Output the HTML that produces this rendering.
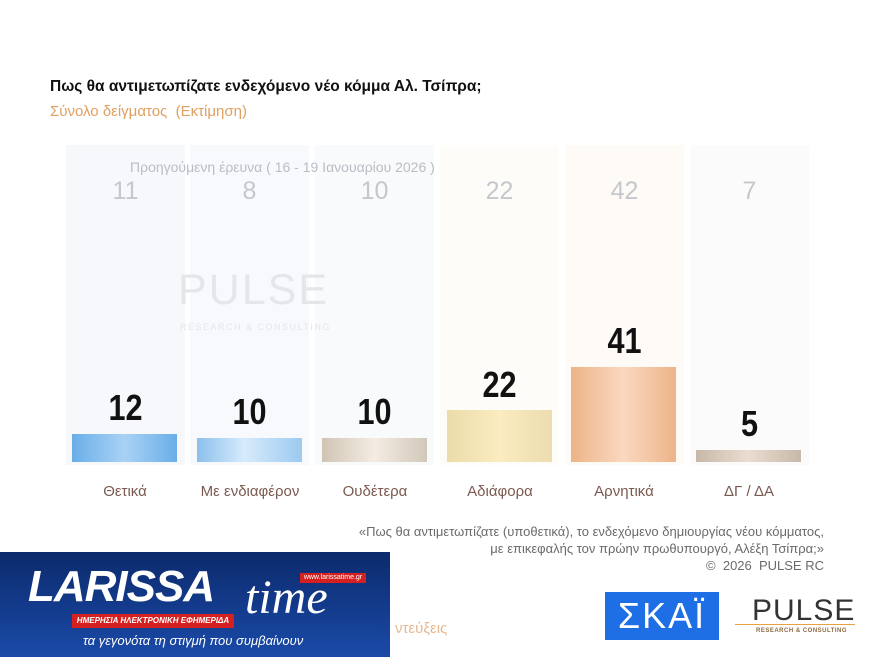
<!DOCTYPE html>
<html><head><meta charset="utf-8"><style>
body{margin:0;width:869px;height:657px;background:#fff;position:relative;overflow:hidden;font-family:"Liberation Sans","DejaVu Sans",sans-serif}
.a{position:absolute}
.col{position:absolute;top:145px;height:320px;width:119px}
.bar{position:absolute;width:105px}
.v{position:absolute;width:119px;text-align:center;font-weight:bold;font-size:36px;color:#111;transform:scaleX(0.85)}
.p{position:absolute;width:119px;text-align:center;font-size:25px;color:#c4c8cd}
.l{position:absolute;width:130px;text-align:center;font-size:15px;color:#7a5a50;top:483px}
</style></head><body>
<div class="a" style="left:50px;top:78px;font-size:15.5px;font-weight:bold;color:#111">Πως θα αντιμετωπίζατε ενδεχόμενο νέο κόμμα Αλ. Τσίπρα;</div>
<div class="a" style="left:50px;top:103px;font-size:15px;color:#e0a060">Σύνολο δείγματος &nbsp;(Εκτίμηση)</div>

<div class="col" style="left:66px;background:#f6f8fb"></div>
<div class="col" style="left:190px;background:#f7f9fc"></div>
<div class="col" style="left:315px;background:#f9fafb"></div>
<div class="col" style="left:440px;background:#fefcf8"></div>
<div class="col" style="left:565px;background:#fefaf6"></div>
<div class="col" style="left:690px;background:#fbfbfb"></div>

<div class="a" style="left:130px;top:159px;font-size:14px;color:#b8bec6">Προηγούμενη έρευνα ( 16 - 19 Ιανουαρίου 2026 )</div>
<div class="p" style="left:66px;top:177px">11</div>
<div class="p" style="left:190px;top:177px">8</div>
<div class="p" style="left:315px;top:177px">10</div>
<div class="p" style="left:440px;top:177px">22</div>
<div class="p" style="left:565px;top:177px">42</div>
<div class="p" style="left:690px;top:177px">7</div>

<div class="a" style="left:178px;top:266px;font-size:43px;color:#e4e6ea;letter-spacing:2px">PULSE</div>
<div class="a" style="left:180px;top:322px;font-size:9px;color:#e4e6ea;letter-spacing:1.5px">RESEARCH &amp; CONSULTING</div>

<div class="bar" style="left:72px;top:434px;height:28px;background:linear-gradient(90deg,#6aaee8,#a8d2f4 50%,#6aaee8)"></div>
<div class="bar" style="left:197px;top:438px;height:24px;background:linear-gradient(90deg,#8cc0ec,#d6ebfb 45%,#9ccaf0)"></div>
<div class="bar" style="left:322px;top:438px;height:24px;background:linear-gradient(90deg,#d0c4b4,#f4ece2 50%,#d2c8ba)"></div>
<div class="bar" style="left:447px;top:410px;height:52px;background:linear-gradient(90deg,#ecdcaa,#faecc0 50%,#ecdcb0)"></div>
<div class="bar" style="left:571px;top:367px;height:95px;background:linear-gradient(90deg,#ecb488,#fad8c0 50%,#ecb488)"></div>
<div class="bar" style="left:696px;top:450px;height:12px;background:linear-gradient(90deg,#c8b8a8,#ecdcd0 50%,#c8b8a8)"></div>

<div class="v" style="left:66px;top:387px">12</div>
<div class="v" style="left:190px;top:391px">10</div>
<div class="v" style="left:315px;top:391px">10</div>
<div class="v" style="left:440px;top:364px">22</div>
<div class="v" style="left:565px;top:320px">41</div>
<div class="v" style="left:690px;top:403px">5</div>

<div class="l" style="left:60px">Θετικά</div>
<div class="l" style="left:185px">Με ενδιαφέρον</div>
<div class="l" style="left:310px">Ουδέτερα</div>
<div class="l" style="left:435px">Αδιάφορα</div>
<div class="l" style="left:559px">Αρνητικά</div>
<div class="l" style="left:684px">ΔΓ / ΔΑ</div>

<div class="a" style="right:45px;top:523px;text-align:right;font-size:13px;line-height:17px;color:#6a6a6a">«Πως θα αντιμετωπίζατε (υποθετικά), το ενδεχόμενο δημιουργίας νέου κόμματος,<br>με επικεφαλής τον πρώην πρωθυπουργό, Αλέξη Τσίπρα;»<br>©&nbsp; 2026 &nbsp;PULSE RC</div>

<div class="a" style="left:395px;top:620px;font-size:15px;color:#e8b890">ντεύξεις</div>

<div class="a" style="left:0;top:552px;width:390px;height:105px;background:linear-gradient(180deg,#0c2a6c,#1a4aa8)"></div>
<div class="a" style="left:28px;top:562px;font-size:44px;font-weight:bold;font-style:italic;color:#fff;letter-spacing:-1px">LARISSA</div>
<div class="a" style="left:245px;top:570px;font-size:48px;font-style:italic;font-family:'Liberation Serif',serif;color:#fff">time</div>
<div class="a" style="left:300px;top:573px;width:66px;height:10px;background:#d42020;font-size:7px;color:#fff;text-align:center;line-height:10px">www.larissatime.gr</div>
<div class="a" style="left:72px;top:614px;width:162px;height:14px;background:#d42020;font-size:8px;font-weight:bold;font-style:italic;color:#fff;text-align:center;line-height:14px">ΗΜΕΡΗΣΙΑ ΗΛΕΚΤΡΟΝΙΚΗ ΕΦΗΜΕΡΙΔΑ</div>
<div class="a" style="left:83px;top:633px;font-size:13px;font-style:italic;color:#fff">τα γεγονότα τη στιγμή που συμβαίνουν</div>

<div class="a" style="left:605px;top:592px;width:114px;height:48px;background:#1e6ee6;color:#fff;font-size:36px;text-align:center;line-height:48px;letter-spacing:2px">ΣΚΑΪ</div>
<div class="a" style="left:752px;top:594px;font-size:30px;color:#333;letter-spacing:1px">PULSE</div>
<div class="a" style="left:756px;top:628px;font-size:6px;color:#8a6a40;letter-spacing:0.5px;font-weight:bold">RESEARCH &amp; CONSULTING</div>
<div class="a" style="left:735px;top:624px;width:120px;height:1px;background:#e8a040"></div>
</body></html>
